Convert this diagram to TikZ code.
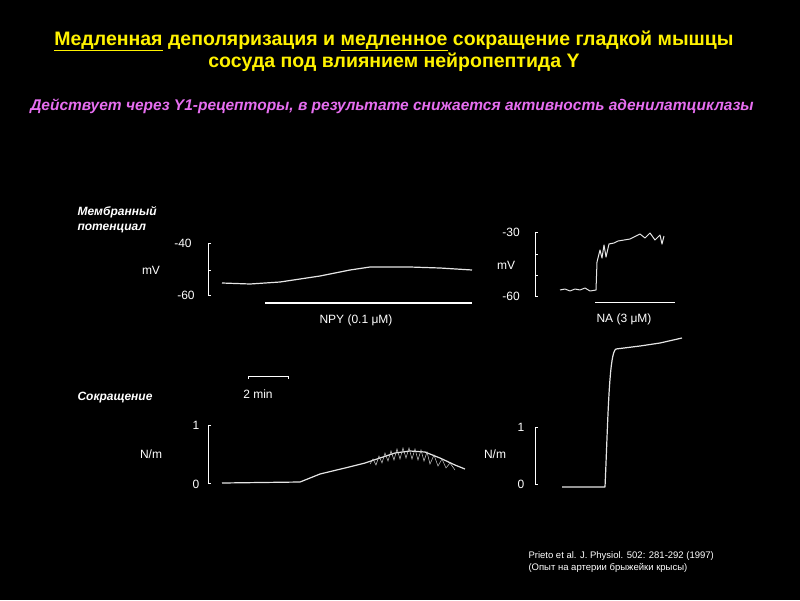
\documentclass[tikz,border=0pt]{standalone}
\usepackage{fontspec}
\setmainfont{Liberation Sans}
\begin{document}
\begin{tikzpicture}[x=1pt,y=-1pt,
  ttl/.style={text=yellow,font=\fontsize{19.5}{22}\selectfont\bfseries,align=center},
  sub/.style={text={rgb,255:red,230;green,110;blue,240},font=\fontsize{15.5}{18}\selectfont\bfseries\itshape},
  lab/.style={text=white,font=\fontsize{12}{14}\selectfont},
  sect/.style={text=white,font=\fontsize{12}{15}\selectfont\bfseries\itshape,align=left,anchor=west},
  trace/.style={draw=white!90!black,line width=1.2pt,line join=round},
  ax/.style={draw=white,line width=0.8pt}]
\fill[black] (0,0) rectangle (800,600);
\useasboundingbox (0,0) rectangle (800,600);
\node[ttl] (title) at (394,51) {\underline{Медленная} деполяризация и \underline{медленное} сокращение гладкой мышцы\\сосуда под влиянием нейропептида Y};
\node[sub] (subt) at (392,106) {Действует через Y1-рецепторы, в результате снижается активность аденилатциклазы};
\node[sect] (mp) at (74,220) {Мембранный\\потенциал};
\node[sect] (sok) at (74,398) {Сокращение};
% top-left
\draw[ax] (211,243) -- (208,243) -- (208,295) -- (211,295) (208,270) -- (211,270);
\node[lab] (a1) at (183,243) {-40};
\node[lab] (a2) at (186,295) {-60};
\node[lab] (a3) at (151,270) {mV};
\draw[trace] (222,283) -- (250,284) -- (280,282) -- (320,276) -- (350,270) -- (370,267) -- (410,267) -- (440,268) -- (472,270);
\draw[draw=white,line width=1.6pt] (265,303) -- (472,303);
\node[lab] (npy) at (356,320) {NPY (0.1 μM)};
% bottom-left
\draw[ax] (211,425) -- (208,425) -- (208,483) -- (211,483);
\node[lab] (b1) at (196,425) {1};
\node[lab] (b2) at (196,484) {0};
\node[lab] (b3) at (151,454) {N/m};
\draw[trace] (222,483) -- (300,482) -- (320,474) -- (345,468) -- (365,463) -- (380,458) -- (395,453) -- (410,451) -- (425,452) -- (440,458) -- (455,465) -- (465,469);
\draw[draw=white!80!black,line width=0.5pt] (370,464) -- (373,459) -- (376,465) -- (379,456) -- (382,463) -- (385,453) -- (388,461) -- (391,451) -- (394,460) -- (397,449) -- (400,459) -- (403,448) -- (406,458) -- (409,448) -- (412,459) -- (415,449) -- (418,460) -- (421,450) -- (424,461) -- (427,452) -- (430,464) -- (434,455) -- (438,466) -- (442,459) -- (446,468) -- (450,463) -- (455,470);
\draw[ax] (248,379) -- (248,376) -- (288,376) -- (288,379);
\node[lab] (min) at (258,394) {2 min};
% top-right
\draw[ax] (538,232) -- (535,232) -- (535,296) -- (538,296) (535,254) -- (538,254) (535,275) -- (538,275);
\node[lab] (c1) at (511,232) {-30};
\node[lab] (c2) at (511,296) {-60};
\node[lab] (c3) at (506,265) {mV};
\draw[trace,line width=1pt] (560,290) -- (565,289) -- (570,291) -- (575,289) -- (580,290) -- (585,288) -- (590,291) -- (596,290) -- (597,262) -- (600,250) -- (602,258) -- (604,245) -- (606,257) -- (609,244) -- (614,243) -- (618,241) -- (624,240) -- (630,239) -- (636,236) -- (640,234) -- (645,238) -- (650,233) -- (655,240) -- (660,235) -- (662,244) -- (664,236);
\draw[ax,line width=1pt] (595,302) -- (675,302);
\node[lab] (na) at (624,319) {NA (3 μM)};
% bottom-right
\draw[ax] (538,427) -- (535,427) -- (535,484) -- (538,484);
\node[lab] (d1) at (521,427) {1};
\node[lab] (d2) at (521,484) {0};
\node[lab] (d3) at (495,454) {N/m};
\draw[trace] (562,487) -- (605,487) .. controls (608,420) and (609,352) .. (616,349) -- (640,346) -- (660,343) -- (682,338);
% citation
\node[text=white,font=\fontsize{9.5}{12}\selectfont,align=left,anchor=west] (cit) at (525,562) {Prieto et al. J. Physiol. 502: 281-292 (1997)\\(Опыт на артерии брыжейки крысы)};
\end{tikzpicture}
\end{document}
